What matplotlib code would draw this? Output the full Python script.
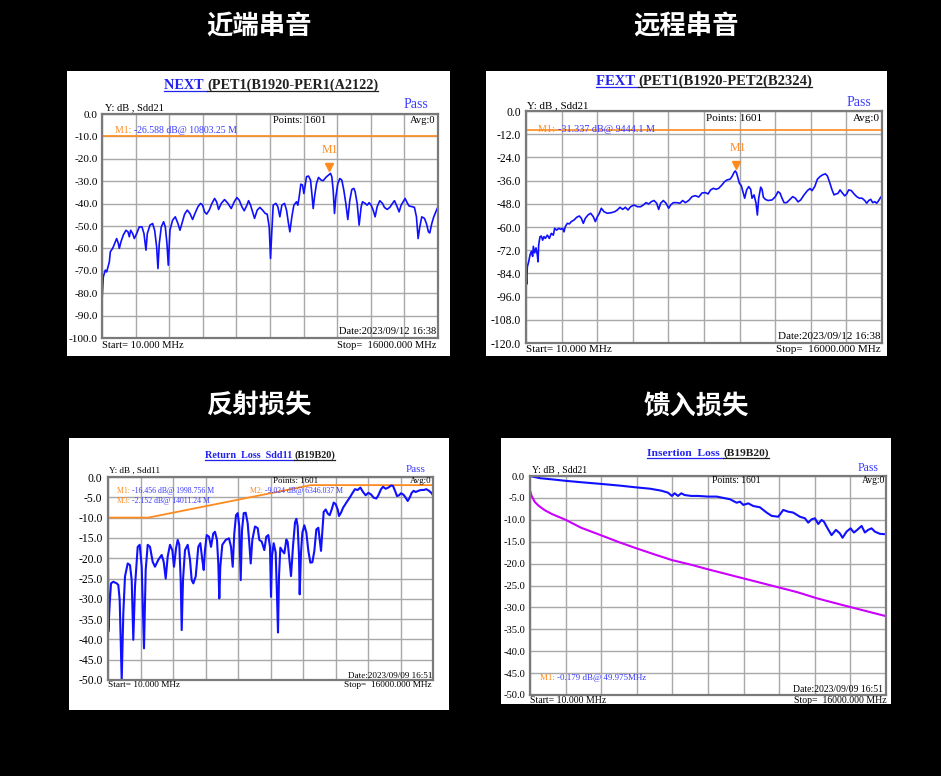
"""
Four VNA screenshots (NEXT / FEXT / return loss / insertion loss) laid out on a
black board with Chinese captions.  Saves out.png.
"""

import matplotlib
matplotlib.use("Agg")
import matplotlib.pyplot as plt
from matplotlib.lines import Line2D
from matplotlib.patches import Rectangle
from matplotlib.transforms import offset_copy
import numpy as np

W, H = 941, 776
SERIF = "Liberation Serif"
CJK = ["Noto Sans CJK SC", "DejaVu Sans"]

TRACE_BLUE = "#1010ff"
TEXT_BLUE  = "#3a3aff"
ORANGE     = "#ff8a1e"
MAGENTA    = "#cc00ff"
GRID       = "#a8a8a8"
FRAME      = "#7a7a7a"

F_START, F_STOP = 10.0, 16000.0

# ─────────────────────────────────────────────────────────────────────────────
# Data (MHz / dB)
# ─────────────────────────────────────────────────────────────────────────────

CAPTIONS = ["近端串音", "远程串音", "反射损失", "馈入损失"]

NEXT_YTICKS = [0.0, -10.0, -20.0, -30.0, -40.0, -50.0, -60.0, -70.0, -80.0, -90.0, -100.0]
FEXT_YTICKS = [0.0, -12.0, -24.0, -36.0, -48.0, -60.0, -72.0, -84.0, -96.0, -108.0, -120.0]
LOSS_YTICKS = [0.0, -5.0, -10.0, -15.0, -20.0, -25.0, -30.0, -35.0, -40.0, -45.0, -50.0]

NEXT_FREQ = [
    10, 73, 168, 232, 295, 359, 406, 517, 644, 707,
    787, 834, 914, 1025, 1151, 1246, 1310, 1373, 1468, 1548,
    1659, 1786, 1912, 2007, 2103, 2166, 2293, 2420, 2515, 2610,
    2673, 2736, 2831, 2942, 3022, 3101, 3164, 3243, 3370, 3497,
    3624, 3719, 3814, 3941, 4068, 4194, 4321, 4448, 4575, 4702,
    4797, 4893, 4988, 5114, 5241, 5368, 5463, 5558, 5685, 5843,
    6002, 6160, 6303, 6430, 6541, 6667, 6778, 6889, 6985, 7080,
    7175, 7270, 7397, 7523, 7650, 7777, 7872, 7967, 8030, 8094,
    8157, 8284, 8379, 8474, 8569, 8696, 8791, 8886, 8950, 9045,
    9140, 9267, 9330, 9394, 9473, 9552, 9616, 9679, 9743, 9838,
    9933, 9996, 10060, 10123, 10218, 10313, 10440, 10535, 10662, 10789,
    10884, 10947, 11011, 11074, 11138, 11233, 11328, 11423, 11518, 11613,
    11708, 11803, 11899, 11994, 12057, 12152, 12247, 12343, 12406, 12533,
    12628, 12723, 12818, 12913, 13008, 13104, 13230, 13357, 13452, 13579,
    13706, 13833, 13928, 14055, 14150, 14245, 14340, 14435, 14531, 14626,
    14784, 14879, 14974, 15054, 15133, 15228, 15355, 15450, 15545, 15609,
    15704, 15799, 15894, 16000]
NEXT_DB = [
    -83.2, -72.7, -69.7, -70.5, -68.3, -66.0, -61.5, -60.0, -57.0, -55.6,
    -57.8, -60.0, -57.0, -54.0, -51.9, -52.6, -54.8, -51.9, -53.4, -55.6,
    -53.4, -50.4, -50.4, -53.4, -60.8, -53.4, -49.6, -48.9, -51.9, -59.3,
    -69.0, -57.8, -50.4, -48.1, -50.4, -57.8, -67.5, -51.9, -47.4, -45.9,
    -48.9, -51.9, -48.9, -44.7, -42.9, -44.4, -47.1, -44.1, -41.4, -39.9,
    -40.7, -43.7, -44.7, -42.9, -39.9, -37.7, -39.2, -42.6, -39.9, -38.2,
    -39.9, -42.2, -39.2, -37.3, -38.5, -41.4, -43.2, -41.1, -38.7, -40.7,
    -43.7, -46.6, -42.9, -41.7, -42.9, -44.4, -44.7, -50.4, -64.5, -51.9,
    -40.7, -39.9, -41.4, -45.9, -40.7, -39.9, -42.9, -48.9, -52.6, -45.9,
    -40.7, -39.2, -40.7, -37.0, -31.3, -31.7, -35.5, -31.7, -28.0, -27.7,
    -29.5, -35.5, -42.2, -37.0, -31.0, -28.3, -29.5, -29.8, -28.3, -27.3,
    -26.5, -28.0, -34.0, -44.4, -37.0, -31.0, -28.8, -29.5, -34.0, -39.9,
    -47.1, -38.5, -33.7, -33.2, -34.7, -39.9, -49.6, -41.4, -39.2, -39.9,
    -40.7, -39.6, -40.7, -42.9, -45.9, -41.4, -38.7, -39.9, -41.7, -42.6,
    -41.7, -39.9, -38.7, -41.4, -43.7, -40.7, -39.2, -37.7, -39.6, -41.1,
    -41.4, -41.7, -45.9, -55.6, -50.4, -45.9, -46.6, -48.9, -52.6, -53.1,
    -48.9, -45.9, -43.7, -41.4]
NEXT_LIMIT = -10.0
NEXT_MARKER = (10803.25, -26.588)

FEXT_FREQ = [
    10, 40, 70, 130, 190, 250, 309, 339, 399, 459,
    519, 549, 579, 639, 699, 758, 818, 878, 968, 1058,
    1148, 1237, 1297, 1387, 1477, 1567, 1657, 1716, 1776, 1866,
    1956, 2046, 2166, 2285, 2405, 2495, 2585, 2675, 2794, 2914,
    3034, 3124, 3214, 3304, 3393, 3513, 3663, 3843, 3992, 4112,
    4232, 4352, 4472, 4591, 4711, 4861, 5011, 5160, 5280, 5400,
    5520, 5639, 5759, 5879, 5969, 6058, 6178, 6298, 6418, 6508,
    6628, 6777, 6927, 7047, 7167, 7316, 7466, 7616, 7766, 7915,
    8065, 8185, 8305, 8424, 8544, 8664, 8814, 8933, 9053, 9173,
    9263, 9353, 9413, 9472, 9532, 9592, 9682, 9772, 9832, 9922,
    10012, 10102, 10162, 10252, 10342, 10402, 10462, 10552, 10611, 10671,
    10761, 10881, 11061, 11210, 11330, 11420, 11510, 11600, 11720, 11839,
    11989, 12109, 12229, 12349, 12499, 12648, 12768, 12858, 12978, 13097,
    13217, 13337, 13457, 13547, 13636, 13756, 13846, 13936, 14026, 14116,
    14206, 14325, 14415, 14505, 14625, 14745, 14864, 14984, 15104, 15224,
    15314, 15403, 15493, 15583, 15673, 15763, 15853, 15943, 16000]
FEXT_DB = [
    -84.0, -89.6, -80.6, -78.0, -74.5, -72.6, -75.2, -70.0, -73.4, -70.8,
    -74.5, -78.0, -69.3, -65.0, -64.7, -66.8, -65.0, -65.9, -64.2, -65.9,
    -63.3, -64.2, -60.7, -61.6, -60.7, -61.2, -60.7, -62.5, -59.8, -58.1,
    -58.4, -57.2, -56.4, -55.0, -54.3, -55.5, -58.1, -55.5, -53.8, -52.9,
    -54.7, -57.2, -54.7, -52.9, -50.3, -52.1, -52.9, -52.6, -52.1, -51.2,
    -49.8, -50.9, -49.8, -51.2, -49.5, -48.6, -49.5, -49.5, -48.6, -47.4,
    -48.1, -46.9, -46.3, -47.7, -50.9, -47.7, -46.3, -47.7, -50.3, -48.6,
    -47.4, -47.4, -47.7, -46.3, -47.4, -46.3, -44.3, -43.8, -44.5, -42.4,
    -42.2, -42.9, -40.8, -40.0, -40.5, -40.0, -38.2, -36.5, -35.6, -35.3,
    -33.9, -31.8, -31.0, -32.2, -34.8, -37.3, -38.7, -42.5, -45.1, -40.8,
    -39.1, -40.5, -45.1, -43.4, -47.7, -53.8, -45.1, -39.4, -40.5, -44.6,
    -45.7, -46.3, -46.0, -44.3, -41.7, -42.5, -45.1, -47.4, -47.4, -46.0,
    -44.3, -45.1, -47.0, -46.0, -43.4, -41.2, -40.1, -41.2, -39.1, -35.3,
    -33.9, -33.0, -32.5, -33.6, -36.5, -40.8, -43.4, -42.9, -42.6, -40.8,
    -42.2, -43.9, -42.9, -40.8, -41.2, -42.9, -44.3, -45.1, -45.1, -46.3,
    -47.7, -46.3, -45.7, -47.4, -46.9, -47.7, -46.3, -44.6, -43.9]
FEXT_LIMIT = -10.0
FEXT_MARKER = (9444.1, -31.337)

RL_FREQ = [
    10, 26, 94, 158, 271, 438, 517, 585, 684, 763,
    846, 979, 1092, 1176, 1255, 1338, 1471, 1570, 1668, 1781,
    1865, 1963, 2076, 2209, 2322, 2485, 2652, 2750, 2849, 2947,
    3060, 3174, 3257, 3356, 3439, 3518, 3587, 3636, 3700, 3798,
    3931, 4044, 4128, 4207, 4325, 4453, 4552, 4650, 4719, 4782,
    4866, 4979, 5078, 5191, 5274, 5372, 5437, 5486, 5535, 5634,
    5801, 5963, 6062, 6145, 6224, 6308, 6391, 6470, 6539, 6603,
    6687, 6785, 6883, 6962, 7031, 7110, 7242, 7375, 7454, 7572,
    7700, 7798, 7897, 7980, 8030, 8079, 8161, 8260, 8325, 8374,
    8424, 8489, 8588, 8686, 8785, 8850, 8949, 9014, 9113, 9211,
    9277, 9342, 9408, 9441, 9506, 9572, 9670, 9769, 9867, 9966,
    10064, 10162, 10261, 10359, 10425, 10490, 10540, 10622, 10720, 10819,
    10917, 11015, 11114, 11212, 11311, 11376, 11475, 11573, 11737, 11901,
    12032, 12163, 12295, 12426, 12557, 12688, 12819, 12951, 13082, 13213,
    13311, 13443, 13541, 13672, 13803, 13934, 14033, 14131, 14230, 14328,
    14427, 14558, 14656, 14755, 14853, 14952, 15050, 15148, 15280, 15411,
    15542, 15673, 15804, 15936, 16000]
RL_DB = [
    -20.0, -38.1, -31.1, -26.2, -25.8, -26.2, -26.6, -30.3, -50.0, -33.6,
    -24.5, -21.3, -21.7, -25.4, -40.1, -27.0, -17.2, -16.7, -22.1, -42.2,
    -22.9, -16.7, -17.2, -20.9, -22.1, -20.4, -19.2, -20.9, -25.0, -19.6,
    -16.7, -18.0, -22.1, -17.6, -15.5, -16.7, -25.4, -37.7, -25.4, -18.0,
    -16.7, -20.4, -25.4, -26.2, -24.5, -17.2, -16.3, -20.4, -22.9, -18.0,
    -14.3, -14.7, -17.2, -13.9, -13.5, -15.5, -21.3, -29.9, -22.1, -16.7,
    -15.5, -15.1, -17.2, -22.1, -13.9, -9.4, -8.9, -12.2, -25.4, -13.1,
    -8.9, -8.8, -11.4, -16.3, -21.3, -15.5, -12.2, -12.6, -15.5, -15.9,
    -18.0, -14.7, -14.3, -17.2, -29.5, -19.5, -16.3, -18.6, -29.3, -38.3,
    -24.4, -17.4, -18.2, -18.8, -15.4, -16.0, -21.1, -24.4, -17.0, -11.2,
    -10.3, -12.1, -19.5, -28.9, -18.6, -13.7, -11.9, -13.7, -18.2, -21.1,
    -21.0, -18.2, -12.9, -12.5, -15.4, -18.2, -14.5, -8.6, -8.0, -9.0,
    -9.4, -8.0, -6.3, -6.7, -8.0, -9.6, -8.8, -7.6, -6.3, -5.1,
    -4.0, -3.0, -3.2, -2.6, -3.7, -4.5, -3.9, -4.3, -5.1, -5.3,
    -4.5, -3.0, -2.4, -2.9, -2.6, -2.1, -2.2, -3.4, -4.7, -4.5,
    -4.0, -4.4, -5.1, -5.9, -5.1, -3.9, -3.4, -3.7, -3.4, -3.2,
    -3.2, -3.0, -3.4, -4.0, -4.5]
RL_LIMIT_FREQ = [10, 2000, 10000, 16000]
RL_LIMIT_DB   = [-10.0, -10.0, -2.0, -2.0]

IL_FREQ = [
    10, 459, 1058, 1612, 2256, 3185, 4052, 4783, 5400, 5905,
    6206, 6386, 6507, 6656, 6805, 6955, 7254, 7553, 8002, 8392,
    8990, 9291, 9440, 9590, 9814, 10038, 10338, 10638, 10862, 11160,
    11384, 11609, 11833, 12133, 12357, 12506, 12656, 12806, 12956, 13105,
    13209, 13403, 13555, 13749, 13928, 14049, 14228, 14408, 14558, 14707,
    14904, 15051, 15200, 15352, 15500, 15724, 16000]
IL_DB = [
    0.0, -0.5, -0.8, -1.1, -1.4, -1.8, -2.2, -2.6, -2.9, -3.35,
    -3.8, -4.55, -3.95, -4.55, -3.95, -4.35, -4.55, -4.55, -4.7, -4.7,
    -5.3, -6.1, -5.85, -6.6, -6.25, -6.85, -7.15, -8.35, -9.1, -9.3,
    -7.75, -8.15, -8.35, -9.3, -9.65, -10.65, -9.9, -9.65, -10.95, -10.05,
    -10.4, -12.2, -13.5, -12.3, -13.1, -14.1, -12.7, -11.95, -12.9, -12.3,
    -11.4, -12.9, -12.3, -11.95, -12.7, -13.2, -13.3]
IL_LIMIT_FREQ = [10, 80, 221, 400, 670, 1000, 1612, 2300, 3185, 4000, 4783, 5600,
                 6386, 7200, 8002, 9000, 10000, 11000, 12000, 12883, 14000, 15000, 16000]
IL_LIMIT_DB   = [-3.3, -4.5, -5.9, -6.8, -7.8, -8.7, -10.0, -11.8, -13.5, -15.1, -16.5, -17.9,
                 -19.2, -20.2, -21.3, -22.6, -23.9, -25.2, -26.5, -27.9, -29.4, -30.7, -32.0]

for a, b in [(NEXT_FREQ, NEXT_DB), (FEXT_FREQ, FEXT_DB), (RL_FREQ, RL_DB),
             (IL_FREQ, IL_DB), (IL_LIMIT_FREQ, IL_LIMIT_DB)]:
    assert len(a) == len(b), (len(a), len(b))


# ─────────────────────────────────────────────────────────────────────────────
# Helpers (all positions in screenshot pixels, origin top-left)
# ─────────────────────────────────────────────────────────────────────────────

fig = plt.figure(figsize=(W / 100, H / 100), dpi=100, facecolor="black")
RENDERER = fig.canvas.get_renderer()


def fpos(x, y):
    return x / W, 1 - y / H


def panel(x0, y0, x1, y1):
    fig.add_artist(Rectangle(fpos(x0, y1), (x1 - x0) / W, (y1 - y0) / H,
                             transform=fig.transFigure, facecolor="white",
                             edgecolor="none", zorder=-1))


def txt(x, y, s, size, color="black", ha="left", **kw):
    return fig.text(*fpos(x, y), s, fontsize=size, color=color, ha=ha,
                    va="baseline", family=SERIF, **kw)


def rich(x, y, parts, size, ha="left", weight="normal", underline=False):
    """Consecutive text runs in different colours (optionally underlined)."""
    texts = [txt(0, y, s, size, c, weight=weight) for s, c in parts]
    widths = [t.get_window_extent(RENDERER).width for t in texts]
    cur = x - sum(widths) / 2 if ha == "center" else x
    for t, w, (s, c) in zip(texts, widths, parts):
        t.set_position(fpos(cur, y))
        if underline:
            fig.add_artist(Line2D([cur / W, (cur + w) / W], [1 - (y + 2.2) / H] * 2,
                                  color=c, lw=0.9))
        cur += w


def scope(box, yticks, size, pad):
    x0, y0, x1, y1 = box
    ax = fig.add_axes([x0 / W, 1 - y1 / H, (x1 - x0) / W, (y1 - y0) / H])
    ax.set_facecolor("white")
    ax.set_xlim(F_START, F_STOP)
    ax.set_ylim(yticks[-1], yticks[0])
    ax.set_xticks(np.linspace(F_START, F_STOP, 11))
    ax.set_yticks(yticks)
    ax.set_yticklabels([f"{v:.1f}" for v in yticks], family=SERIF, fontsize=size)
    ax.tick_params(length=0, labelbottom=False, pad=pad)
    ax.grid(True, color=GRID, lw=1.0)
    ax.set_axisbelow(True)
    for sp in ax.spines.values():
        sp.set_color(FRAME)
        sp.set_linewidth(1.6)
    return ax


def marker(ax, f, db, label_size):
    tri = offset_copy(ax.transData, fig=fig, x=0, y=7, units="dots")
    ax.plot([f], [db], "v", color=ORANGE, ms=5.5, transform=tri, clip_on=False)
    ax.annotate("M1", (f, db), xytext=(1, 14.5), textcoords="offset points",
                ha="center", va="baseline", color=ORANGE, fontsize=label_size,
                family=SERIF)


# ─────────────────────────────────────────────────────────────────────────────
# Panels
# ─────────────────────────────────────────────────────────────────────────────

def draw_next():
    panel(67, 71, 450, 356)
    ax = scope((102, 114, 438, 338), NEXT_YTICKS, 8.2, 3)
    ax.axhline(NEXT_LIMIT, color=ORANGE, lw=1.2)
    ax.plot(NEXT_FREQ, NEXT_DB, color=TRACE_BLUE, lw=1.2)
    marker(ax, *NEXT_MARKER, 8.5)

    rich(271, 89, [("NEXT ", "#2222ee"), ("(PET1(B1920-PER1(A2122)", "#202020")],
         10.3, ha="center", weight="bold", underline=True)
    txt(105, 110.5, "Y: dB , Sdd21", 7.6)
    txt(428.7, 108.3, "Pass", 10, TEXT_BLUE, ha="right")
    txt(273, 122.7, "Points: 1601", 7.6)
    txt(436, 122.7, "Avg:0", 7.6, ha="right")
    rich(115.3, 133, [("M1: ", ORANGE), ("-26.588 dB@ 10803.25 M", TEXT_BLUE)], 7)
    txt(436.7, 334.3, "Date:2023/09/12 16:38", 7.6, ha="right")
    txt(102, 347.7, "Start= 10.000 MHz", 7.6)
    txt(436.7, 347.7, "Stop=  16000.000 MHz", 7.6, ha="right")


def draw_fext():
    panel(486, 71, 887, 356)
    ax = scope((526, 111, 882, 343), FEXT_YTICKS, 8.4, 3.5)
    ax.axhline(FEXT_LIMIT, color=ORANGE, lw=1.2)
    ax.plot(FEXT_FREQ, FEXT_DB, color=TRACE_BLUE, lw=1.2)
    marker(ax, *FEXT_MARKER, 8.5)

    rich(703.7, 85, [("FEXT ", "#2222ee"), ("(PET1(B1920-PET2(B2324)", "#202020")],
         10.5, ha="center", weight="bold", underline=True)
    txt(526.7, 108.3, "Y: dB , Sdd21", 7.8)
    txt(871, 106, "Pass", 10, TEXT_BLUE, ha="right")
    txt(706.3, 120.7, "Points: 1601", 8)
    txt(880, 120.7, "Avg:0", 8, ha="right")
    rich(538.3, 131.7, [("M1: ", ORANGE), ("-31.337 dB@ 9444.1 M", TEXT_BLUE)], 7.3)
    txt(880, 339.3, "Date:2023/09/12 16:38", 8, ha="right")
    txt(525.7, 351.7, "Start= 10.000 MHz", 8)
    txt(881, 351.7, "Stop=  16000.000 MHz", 8, ha="right")


def draw_return_loss():
    panel(69, 438, 449, 710)
    ax = scope((108, 477, 433, 680), LOSS_YTICKS, 8.4, 4)
    ax.plot(RL_LIMIT_FREQ, RL_LIMIT_DB, color=ORANGE, lw=1.3)
    ax.plot(RL_FREQ, RL_DB, color=TRACE_BLUE, lw=1.5)

    rich(270, 457.7, [("Return  Loss  Sdd11 ", "#2222ee"), ("(B19B20)", "#202020")],
         7.3, ha="center", weight="bold", underline=True)
    txt(109.3, 473.3, "Y: dB , Sdd11", 6.6)
    txt(425.3, 472.3, "Pass", 8, TEXT_BLUE, ha="right")
    txt(273.3, 483.3, "Points: 1601", 6.4)
    txt(432, 483.3, "Avg:0", 6.4, ha="right")
    rich(116.7, 493.3, [("M1: ", ORANGE), ("-16.456 dB@ 1998.756 M", TEXT_BLUE)], 5.6)
    rich(116.7, 502.7, [("M3: ", ORANGE), ("-2.152 dB@ 14011.24 M", TEXT_BLUE)], 5.6)
    rich(250, 493.3, [("M2: ", ORANGE), ("-9.024 dB@ 6346.037 M", TEXT_BLUE)], 5.6)
    txt(432, 677.7, "Date:2023/09/09 16:51", 6.6, ha="right")
    txt(107.7, 686.7, "Start= 10.000 MHz", 6.7)
    txt(431, 686.7, "Stop=  16000.000 MHz", 6.7, ha="right")


def draw_insertion_loss():
    panel(501, 438, 891, 704)
    ax = scope((530, 476, 886, 695), LOSS_YTICKS, 7.6, 3.5)
    ax.plot(IL_LIMIT_FREQ, IL_LIMIT_DB, color=MAGENTA, lw=1.5)
    ax.plot(IL_FREQ, IL_DB, color=TRACE_BLUE, lw=1.5)

    rich(708, 456, [("Insertion  Loss ", "#2222ee"), ("(B19B20)", "#202020")],
         8.2, ha="center", weight="bold", underline=True)
    txt(531.7, 472.7, "Y: dB , Sdd21", 7)
    txt(878.3, 471, "Pass", 8.5, TEXT_BLUE, ha="right")
    txt(711.7, 483.3, "Points: 1601", 6.9)
    txt(885, 483.3, "Avg:0", 6.9, ha="right")
    rich(540, 680, [("M1: ", ORANGE), ("-0.179 dB@ 49.975MHz", TEXT_BLUE)], 6.5)
    txt(882.7, 692, "Date:2023/09/09 16:51", 7, ha="right")
    txt(530, 702.7, "Start= 10.000 MHz", 7)
    txt(886.7, 702.7, "Stop=  16000.000 MHz", 7, ha="right")


# ─────────────────────────────────────────────────────────────────────────────
# Main
# ─────────────────────────────────────────────────────────────────────────────

for s, (cx, cy) in zip(CAPTIONS, [(259, 27), (686, 27), (259, 406), (696, 406)]):
    fig.text(*fpos(cx, cy), s, color="white", fontsize=19, family=CJK,
             weight="bold", ha="center", va="center")

draw_next()
draw_fext()
draw_return_loss()
draw_insertion_loss()

fig.savefig("out.png", dpi=100, facecolor="black")
